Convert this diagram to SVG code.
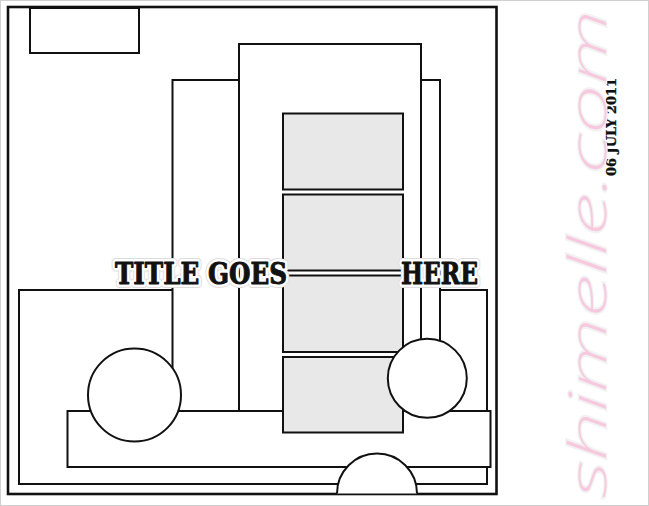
<svg xmlns="http://www.w3.org/2000/svg" width="649" height="506" viewBox="0 0 649 506">
<style>
.box{fill:#fff;stroke:#111;stroke-width:2}
.photo{fill:#e8e8e8;stroke:#111;stroke-width:2}
.t{font-family:"DejaVu Serif Condensed","DejaVu Serif",serif;font-stretch:condensed;font-weight:bold;font-size:30px}
.halo{fill:#fff;stroke:#fff;stroke-width:6;stroke-linejoin:round}
.shadow{fill:none;stroke:#ddd;stroke-width:8;stroke-linejoin:round}
.ink{fill:#111;stroke:#111;stroke-width:0.9;stroke-linejoin:round}
.date{font-family:"DejaVu Serif Condensed","DejaVu Serif",serif;font-weight:bold;font-size:13px;fill:#111;stroke:#111;stroke-width:0.3}
.wm{font-family:"Noto Sans",sans-serif;font-style:italic;font-weight:200;font-size:52px;fill:#f7c9df;stroke:#f2f2f2;stroke-width:2.5;paint-order:stroke}
</style>
<rect x="0.5" y="0.5" width="648" height="505" fill="#fff" stroke="#d0d0d0" stroke-width="1"/>
<g id="frame"><rect x="8" y="7" width="488.5" height="487" fill="#fff" stroke="#111" stroke-width="2.6"/></g>
<g id="mat-large"><rect class="box" x="19" y="290" width="468" height="194"/></g>
<g id="mat-tall-left"><rect class="box" x="172.5" y="80" width="267.5" height="331"/></g>
<g id="mat-tall-center"><rect class="box" x="239" y="44" width="182" height="367"/></g>
<g id="strip-bottom"><rect class="box" x="67.5" y="411" width="423" height="56"/></g>
<g id="photo-1"><rect class="photo" x="283" y="113.5" width="120" height="76"/></g>
<g id="photo-2"><rect class="photo" x="283" y="194.5" width="120" height="76"/></g>
<g id="photo-3"><rect class="photo" x="283" y="275.5" width="120" height="76.5"/></g>
<g id="photo-4"><rect class="photo" x="283" y="357" width="120" height="75.5"/></g>
<g id="circle-left"><circle class="box" cx="134.5" cy="395" r="46.5"/></g>
<g id="circle-right"><circle class="box" cx="427.3" cy="378.3" r="39.5"/></g>
<g id="semicircle-bottom"><path class="box" d="M337,493.5 A40,40 0 0 1 417,493.5"/></g>
<g id="tag-top-left"><rect class="box" x="30" y="8" width="109" height="45"/></g>
<g id="title">
<text class="t shadow" x="115" y="284" textLength="172" lengthAdjust="spacingAndGlyphs">TITLE GOES</text>
<text class="t halo" x="115" y="284" textLength="172" lengthAdjust="spacingAndGlyphs">TITLE GOES</text>
<text class="t ink" x="115" y="284" textLength="172" lengthAdjust="spacingAndGlyphs">TITLE GOES</text>
<text class="t shadow" x="401" y="284" textLength="77" lengthAdjust="spacingAndGlyphs">HERE</text>
<text class="t halo" x="401" y="284" textLength="77" lengthAdjust="spacingAndGlyphs">HERE</text>
<text class="t ink" x="401" y="284" textLength="77" lengthAdjust="spacingAndGlyphs">HERE</text>
</g>
<g id="date"><text class="date" transform="translate(615.5,176) rotate(-90)" textLength="98" lengthAdjust="spacingAndGlyphs">06 JULY 2011</text></g>
<g id="watermark"><text class="wm" transform="translate(606,498) rotate(-90)" textLength="488" lengthAdjust="spacingAndGlyphs">shimelle.com</text></g>
</svg>
